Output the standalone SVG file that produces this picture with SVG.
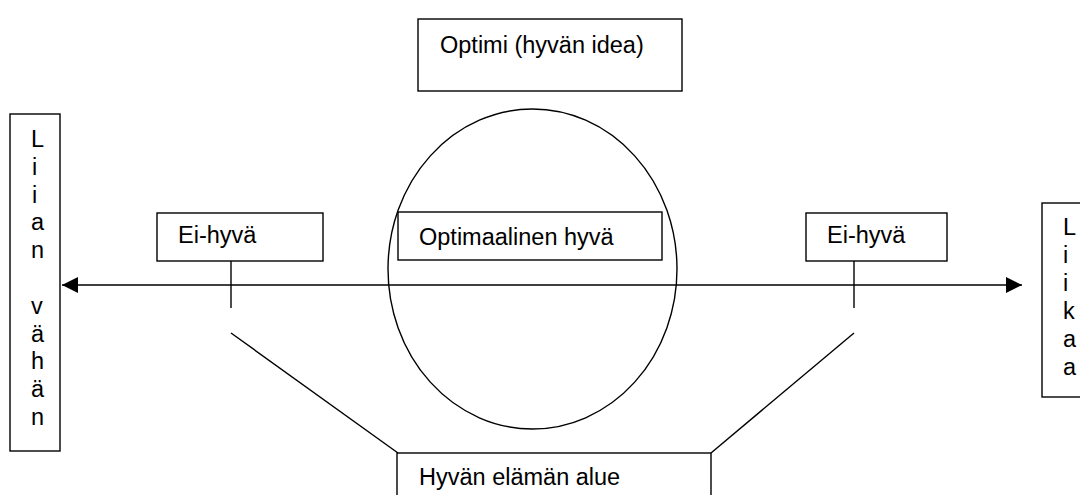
<svg xmlns="http://www.w3.org/2000/svg" width="1080" height="495" viewBox="0 0 1080 495">
<style>
.box{fill:#fff;stroke:#000;stroke-width:1.4}
.ln{fill:none;stroke:#000;stroke-width:1.4}
text{font-family:"Liberation Sans",Arial,sans-serif;font-size:23.5px;fill:#000}
</style>
<defs>
<marker id="ah" viewBox="0 0 16 16" refX="16" refY="8" markerWidth="16" markerHeight="16" markerUnits="userSpaceOnUse" orient="auto-start-reverse">
<path d="M0,0 L16,8 L0,16 z" fill="#000"/>
</marker>
</defs>
<rect width="1080" height="495" fill="#fff"/>
<g id="optimi">
<rect class="box" x="418" y="19" width="264" height="72"/>
<text x="440" y="53">Optimi (hyvän idea)</text>
</g>
<g id="circle">
<ellipse class="ln" cx="532.5" cy="269" rx="144.5" ry="160"/>
</g>
<g id="connectors">
<line class="ln" x1="62" y1="285" x2="1022" y2="285" marker-start="url(#ah)" marker-end="url(#ah)"/>
<line class="ln" x1="231" y1="261" x2="231" y2="308"/>
<line class="ln" x1="854" y1="261" x2="854" y2="308"/>
<line class="ln" x1="231" y1="333" x2="398" y2="453"/>
<line class="ln" x1="854" y1="333" x2="711" y2="453"/>
</g>
<g id="liian-vahan">
<rect class="box" x="10" y="114" width="50" height="337"/>
<text x="31" y="147">L</text>
<text x="32" y="175">i</text>
<text x="32" y="203">i</text>
<text x="31" y="230">a</text>
<text x="31" y="258">n</text>
<text x="31" y="314">v</text>
<text x="31" y="342">ä</text>
<text x="31" y="369">h</text>
<text x="31" y="397">ä</text>
<text x="31" y="425">n</text>
</g>
<g id="liikaa">
<rect class="box" x="1042" y="203" width="50" height="194"/>
<text x="1063" y="235">L</text>
<text x="1063" y="263">i</text>
<text x="1063" y="291">i</text>
<text x="1063" y="319">k</text>
<text x="1063" y="347">a</text>
<text x="1063" y="375">a</text>
</g>
<g id="ei-hyva-left">
<rect class="box" x="157" y="213" width="166" height="48"/>
<text x="178" y="243">Ei-hyvä</text>
</g>
<g id="optimaalinen">
<rect class="box" x="398" y="212" width="264" height="48"/>
<text x="419" y="245">Optimaalinen hyvä</text>
</g>
<g id="ei-hyva-right">
<rect class="box" x="806" y="213" width="141" height="48"/>
<text x="827" y="243">Ei-hyvä</text>
</g>
<g id="hyvan-elaman-alue">
<rect class="box" x="397" y="453" width="314" height="60"/>
<text x="419" y="485">Hyvän elämän alue</text>
</g>
</svg>
